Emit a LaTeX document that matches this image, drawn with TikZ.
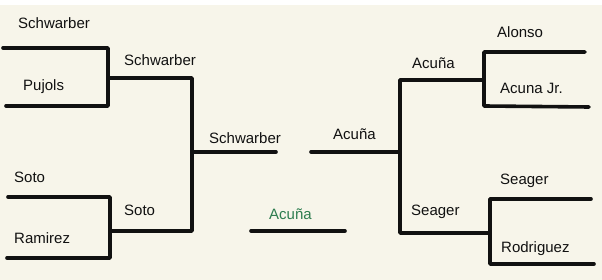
\documentclass[tikz,border=0pt]{standalone}
\usepackage{fontspec}
\setmainfont{Liberation Sans}
\definecolor{bg}{HTML}{F7F5EA}
\definecolor{ink}{HTML}{111111}
\definecolor{win}{HTML}{2E7D4F}
\begin{document}
\begin{tikzpicture}[x=1pt,y=-1pt,
  bline/.style={line width=3.6pt, draw=ink, line cap=round, line join=round},
  pname/.style={anchor=base west, inner sep=0pt, font=\fontsize{15}{17}\selectfont, text=ink},
  wname/.style={pname, text=win}]
\useasboundingbox (0,0) rectangle (602,280);
\fill[white] (0,0) rectangle (602,5);
\fill[bg] (0,5) rectangle (602,280);
% left top first round
\coordinate (a1) at (3,48);
\coordinate (a2) at (108,48);
\coordinate (a3) at (108,106);
\coordinate (a4) at (6,106);
\coordinate (ja) at (108,78);
% left bottom first round
\coordinate (b1) at (8,197);
\coordinate (b2) at (110,197);
\coordinate (b3) at (110,258);
\coordinate (b4) at (7,258);
\coordinate (jb) at (110,231);
% left second round
\coordinate (c1) at (192,78);
\coordinate (c2) at (192,231);
\coordinate (jc) at (192,152);
\coordinate (cf) at (276,152);
% champion line
\coordinate (g1) at (251,231);
\coordinate (g2) at (345,231);
% right final
\coordinate (rf) at (311,152);
\coordinate (jr) at (400,152);
\coordinate (r1) at (400,80);
\coordinate (r2) at (400,233);
% right top first round
\coordinate (d1) at (585,52);
\coordinate (d2) at (484,52);
\coordinate (d3) at (484,106);
\coordinate (d4) at (589,107);
\coordinate (jd) at (484,80);
% right bottom first round
\coordinate (e1) at (591,199);
\coordinate (e2) at (490,199);
\coordinate (e3) at (490,264);
\coordinate (e4) at (594,264);
\coordinate (je) at (490,233);

\draw[bline] (a1) -- (a2) -- (a3) -- (a4);
\draw[bline] (b1) -- (b2) -- (b3) -- (b4);
\draw[bline] (ja) -- (c1) -- (c2) -- (jb);
\draw[bline] (jc) -- (cf);
\draw[bline] (g1) -- (g2);
\draw[bline] (rf) -- (jr);
\draw[bline] (jd) -- (r1) -- (r2) -- (je);
\draw[bline] (d1) -- (d2) -- (d3) -- (d4);
\draw[bline] (e1) -- (e2) -- (e3) -- (e4);

\node[pname] (t1) at (18,28.5) {Schwarber};
\node[pname] (t2) at (23,90.5) {Pujols};
\node[pname] (t3) at (124,65.7) {Schwarber};
\node[pname] (t4) at (14,182.3) {Soto};
\node[pname] (t5) at (14,243.3) {Ramirez};
\node[pname] (t6) at (124,216) {Soto};
\node[pname] (t7) at (209,143.5) {Schwarber};
\node[wname] (t8) at (269,220) {Acuña};
\node[pname] (t9) at (333,140) {Acuña};
\node[pname] (t10) at (412,68.3) {Acuña};
\node[pname] (t11) at (497,37.7) {Alonso};
\node[pname] (t12) at (500,93.3) {Acuna Jr.};
\node[pname] (t13) at (411,216) {Seager};
\node[pname] (t14) at (500,185) {Seager};
\node[pname] (t15) at (501,253) {Rodriguez};
\end{tikzpicture}
\end{document}
